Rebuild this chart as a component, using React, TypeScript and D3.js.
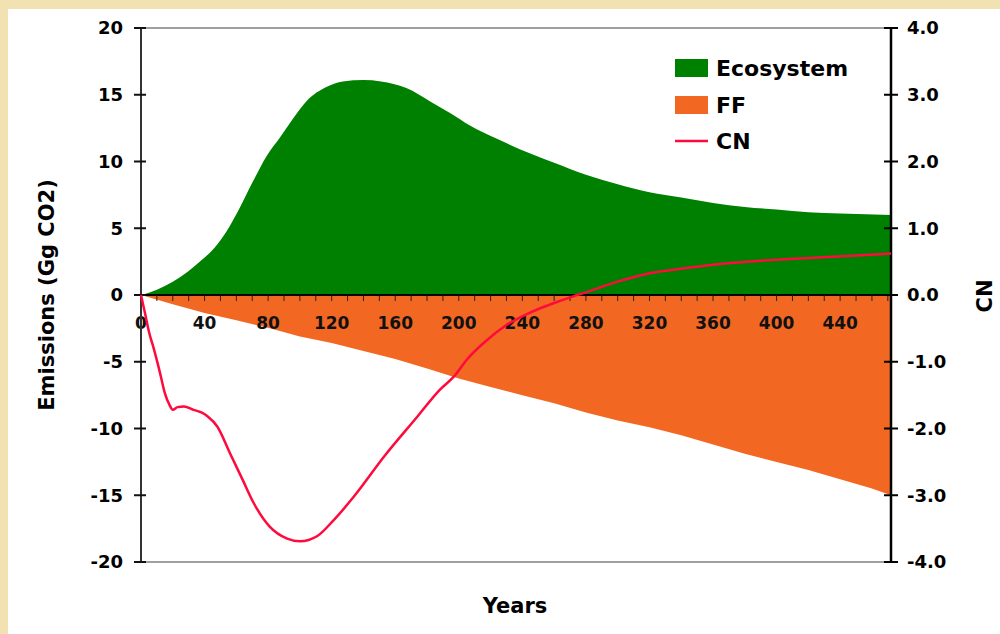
import * as d3 from "d3";
import React from "react";

// ecosystem emissions (Gg CO2), left axis
const ecoYears = [0, 10, 20, 30, 38, 46, 54, 62, 70, 79, 88, 98, 104, 117, 127, 140, 151, 167, 182, 195, 207, 224, 245, 260, 280, 300, 320, 340, 360, 380, 400, 420, 440, 472];
const ecoValues = [0, 0.4, 1.0, 1.8, 2.6, 3.5, 4.8, 6.5, 8.4, 10.4, 11.9, 13.6, 14.5, 15.6, 16.0, 16.1, 16.0, 15.5, 14.5, 13.6, 12.7, 11.7, 10.6, 9.9, 9.0, 8.3, 7.7, 7.3, 6.9, 6.6, 6.4, 6.2, 6.1, 6.0];

// fossil fuel emissions (Gg CO2), left axis
const ffYears = [0, 20, 40, 60, 80, 100, 120, 140, 160, 180, 200, 220, 240, 260, 280, 300, 320, 340, 360, 380, 400, 420, 440, 460, 472];
const ffValues = [0, -0.7, -1.35, -1.9, -2.45, -3.1, -3.6, -4.2, -4.8, -5.5, -6.25, -6.9, -7.5, -8.1, -8.8, -9.4, -9.9, -10.5, -11.2, -11.9, -12.5, -13.1, -13.8, -14.5, -15.0];

// CN, right axis
const cnYears = [0, 2.5, 5, 8, 12, 15, 18, 20, 23, 27, 33, 38, 42, 48, 56, 64, 71, 81, 92, 100, 111, 121, 134, 153, 174, 188, 197, 205, 218, 230, 247, 260, 272, 280, 300, 321, 342, 363, 394, 426, 472];
const cnValues = [0, -0.27, -0.55, -0.8, -1.17, -1.47, -1.65, -1.72, -1.68, -1.67, -1.72, -1.76, -1.82, -1.97, -2.37, -2.77, -3.12, -3.47, -3.65, -3.69, -3.61, -3.38, -3.02, -2.42, -1.82, -1.42, -1.22, -0.97, -0.67, -0.45, -0.24, -0.12, -0.02, 0.04, 0.2, 0.33, 0.4, 0.46, 0.52, 0.56, 0.62];

const leftTicks = [20, 15, 10, 5, 0, -5, -10, -15, -20];
const rightTicks = [4, 3, 2, 1, 0, -1, -2, -3, -4];
const xLabels = [0, 40, 80, 120, 160, 200, 240, 280, 320, 360, 400, 440];
const xMinor = d3.range(10, 472, 10);

const legendItems = [
  { name: "Ecosystem", color: "#008000", kind: "box" },
  { name: "FF", color: "#f26822", kind: "box" },
  { name: "CN", color: "#ff0a3c", kind: "line" },
];

const FONT = "'DejaVu Sans', Verdana, sans-serif";

export default function App() {
  const left = 141, right = 891, top = 28, bottom = 562;
  const x = d3.scaleLinear().domain([0, 472]).range([left, right]);
  const y = d3.scaleLinear().domain([-20, 20]).range([bottom, top]);
  const y2 = d3.scaleLinear().domain([-4, 4]).range([bottom, top]);

  const eco = ecoYears.map((t, i) => [t, ecoValues[i]] as [number, number]);
  const ff = ffYears.map((t, i) => [t, ffValues[i]] as [number, number]);
  const cn = cnYears.map((t, i) => [t, cnValues[i]] as [number, number]);

  const ecoArea = d3.area<[number, number]>()
    .x(d => x(d[0])).y0(y(0)).y1(d => y(d[1]))
    .curve(d3.curveMonotoneX);
  const ffArea = d3.area<[number, number]>()
    .x(d => x(d[0])).y0(y(0)).y1(d => y(d[1]));
  const cnLine = d3.line<[number, number]>()
    .x(d => x(d[0])).y(d => y2(d[1]))
    .curve(d3.curveMonotoneX);

  return (
    <div style={{ position: "absolute", left: 0, top: 0 }}>
      <svg width={1000} height={634} style={{ display: "block" }} fontFamily={FONT}>
        <rect width={1000} height={634} fill="#f3e2b1" />
        <rect x={8} y={9} width={992} height={625} fill="#ffffff" />

        {/* plot frame */}
        <line x1={left} x2={right} y1={top} y2={top} stroke="#a0a0a0" strokeWidth={2} />
        <line x1={left} x2={right} y1={bottom} y2={bottom} stroke="#a0a0a0" strokeWidth={2} />

        {/* areas */}
        <path d={ecoArea(eco) ?? ""} fill="#008000" />
        <path d={ffArea(ff) ?? ""} fill="#f26822" />

        {/* x axis along zero */}
        <line x1={left} x2={right} y1={y(0)} y2={y(0)} stroke="#000" strokeWidth={2} />
        {xMinor.map(t => (
          <line key={t} x1={x(t)} x2={x(t)} y1={y(0)} y2={y(0) + 6} stroke="#222" strokeWidth={1} />
        ))}
        {xLabels.map(t => (
          <text key={t} x={x(t)} y={329} textAnchor="middle" fontSize={17} fontWeight="bold" fill="#111">{t}</text>
        ))}

        {/* left axis */}
        <line x1={left} x2={left} y1={top} y2={bottom} stroke="#333" strokeWidth={2} />
        {leftTicks.map(t => (
          <g key={t}>
            <line x1={left - 7} x2={left + 5} y1={y(t)} y2={y(t)} stroke="#111" strokeWidth={2} />
            <text x={123} y={y(t)} dy="0.36em" textAnchor="end" fontSize={18} fontWeight="bold" fill="#000">{t}</text>
          </g>
        ))}

        {/* right axis */}
        <line x1={right} x2={right} y1={top} y2={bottom} stroke="#000" strokeWidth={2.5} />
        {rightTicks.map(t => (
          <g key={t}>
            <line x1={right - 7} x2={right + 7} y1={y2(t)} y2={y2(t)} stroke="#000" strokeWidth={2} />
            <text x={907} y={y2(t)} dy="0.36em" textAnchor="start" fontSize={18} fontWeight="bold" fill="#000">{t.toFixed(1)}</text>
          </g>
        ))}

        {/* CN line */}
        <path d={cnLine(cn) ?? ""} fill="none" stroke="#ff0a3c" strokeWidth={2.5} />

        {/* legend */}
        {legendItems.map((d, i) => {
          const cy = [68, 105, 141][i];
          return (
            <g key={d.name}>
              {d.kind === "box"
                ? <rect x={675} y={cy - 9} width={33} height={18} fill={d.color} />
                : <line x1={675} x2={708} y1={cy} y2={cy} stroke={d.color} strokeWidth={2.5} />}
              <text x={716} y={cy} dy="0.36em" fontSize={22} fontWeight="bold" fill="#000">{d.name}</text>
            </g>
          );
        })}

        {/* axis titles */}
        <text transform="translate(54,295) rotate(-90)" textAnchor="middle" fontSize={21} fontWeight="bold" fill="#000">Emissions (Gg CO2)</text>
        <text transform="translate(992,296) rotate(-90)" textAnchor="middle" fontSize={21} fontWeight="bold" fill="#000">CN</text>
        <text x={515} y={613} textAnchor="middle" fontSize={21} fontWeight="bold" fill="#000">Years</text>
      </svg>
    </div>
  );
}
